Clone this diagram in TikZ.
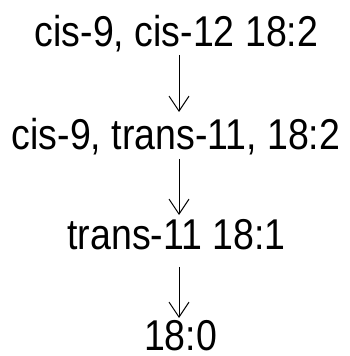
\documentclass[tikz,border=0pt]{standalone}
\usepackage{fontspec}
\setmainfont{Liberation Sans}
\usetikzlibrary{arrows.meta}
\newcommand{\tallname}[1]{\scalebox{1}[1.15]{#1}}
\tikzset{
  fa/.style={anchor=base, inner sep=0pt, outer sep=0pt,
    font=\fontsize{37.5}{40}\selectfont},
  conv/.style={line width=1pt, -{Straight Barb[length=15pt,width=20pt,line width=1pt]}}
}
\begin{document}
\begin{tikzpicture}[x=1pt,y=1pt]
  \useasboundingbox (0,0) rectangle (350,356);
  % fatty acid species, top to bottom
  \node[fa] (n1) at (176.5,309) {\tallname{cis-9, cis-12 18:2}};
  \node[fa] (n2) at (176,206) {\tallname{cis-9, trans-11, 18:2}};
  \node[fa] (n3) at (176.5,106) {\tallname{trans-11 18:1}};
  \node[fa] (n4) at (180.5,6) {\tallname{18:0}};
  % conversion steps
  \draw[conv] ([shift={(2.5,-8)}]n1.base) -- ([shift={(3,38)}]n2.base);
  \draw[conv] ([shift={(3,-9)}]n2.base) -- ([shift={(2.5,35)}]n3.base);
  \draw[conv] ([shift={(2.5,-17)}]n3.base) -- ([shift={(-1.5,32)}]n4.base);
\end{tikzpicture}
\end{document}
